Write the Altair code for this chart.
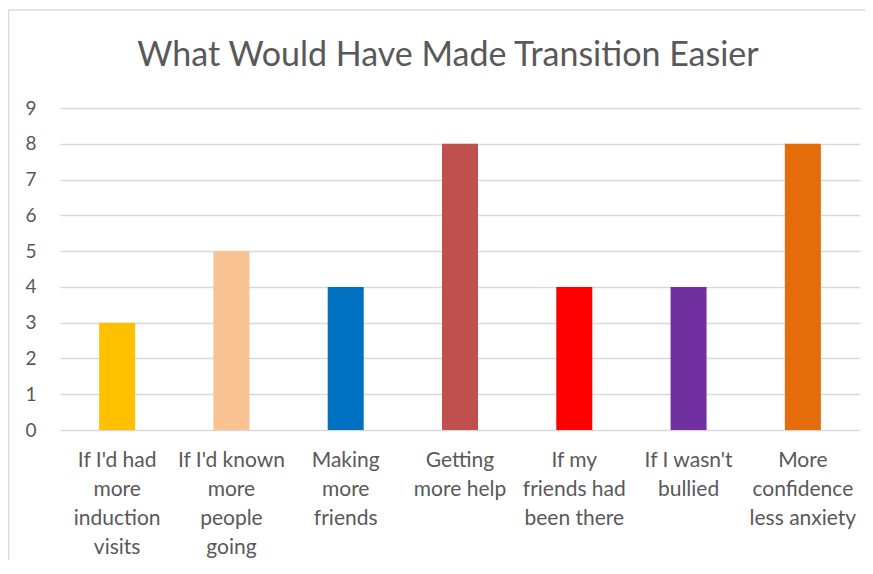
import altair as alt
import pandas as pd

title_text = ["What Would Have Made Transition Easier"]
label_lines = [
    "If I'd had|more|induction|visits",
    "If I'd known|more|people|going",
    "Making|more|friends",
    "Getting|more help",
    "If my|friends had|been there",
    "If I wasn't|bullied",
    "More|confidence|less anxiety",
]
values = [3, 5, 4, 8, 4, 4, 8]
colors = ["#FFC000", "#F9C391", "#0070C0", "#C0504D", "#FF0000", "#7030A0", "#E46C0A"]

df = pd.DataFrame({"cat": label_lines, "value": values, "color": colors})
tdf = pd.DataFrame({"t": title_text})

FONT = "Lato"
GRAY = "#595959"

bars = alt.Chart(df).mark_bar(size=36).encode(
    x=alt.X("cat:N", sort=label_lines, title=None,
            scale=alt.Scale(paddingInner=0.0, paddingOuter=0.0),
            axis=alt.Axis(labelExpr="split(datum.value, '|')", labelAngle=0,
                          labelFontSize=21, labelColor=GRAY, labelFont=FONT,
                          labelLineHeight=29, labelPadding=19, labelBaseline="top",
                          domain=False, ticks=False, grid=False, labelLimit=200)),
    y=alt.Y("value:Q", title=None,
            scale=alt.Scale(domain=[0, 9]),
            axis=alt.Axis(values=list(range(10)), labelFontSize=19, labelColor=GRAY,
                          labelFont=FONT, labelPadding=24, domain=False, ticks=False,
                          gridColor="#D9D9D9", gridWidth=1.5)),
    color=alt.Color("color:N", scale=None, legend=None),
)

title = alt.Chart(tdf).mark_text(
    font=FONT, fontSize=34, fontWeight="normal", color=GRAY, align="center", baseline="alphabetic"
).encode(text="t:N", x=alt.value(388), y=alt.value(-42))

border_top = alt.Chart(tdf).mark_rule(color="#D9D9D9", strokeWidth=1.5).encode(
    x=alt.value(-51.5), x2=alt.value(805), y=alt.value(-98)
)
border_left = alt.Chart(tdf).mark_rule(color="#D9D9D9", strokeWidth=1.5).encode(
    x=alt.value(-51.5), y=alt.value(-98), y2=alt.value(470)
)

chart = alt.layer(bars, title, border_top, border_left).properties(
    width=800,
    height=322,
    autosize=alt.AutoSizeParams(type="none"),
    padding={"left": 52, "top": 100, "right": 5, "bottom": 130},
).configure(background="white").configure_view(stroke=None)

chart.save("out.html", embed_options={"renderer": "svg", "actions": False})
